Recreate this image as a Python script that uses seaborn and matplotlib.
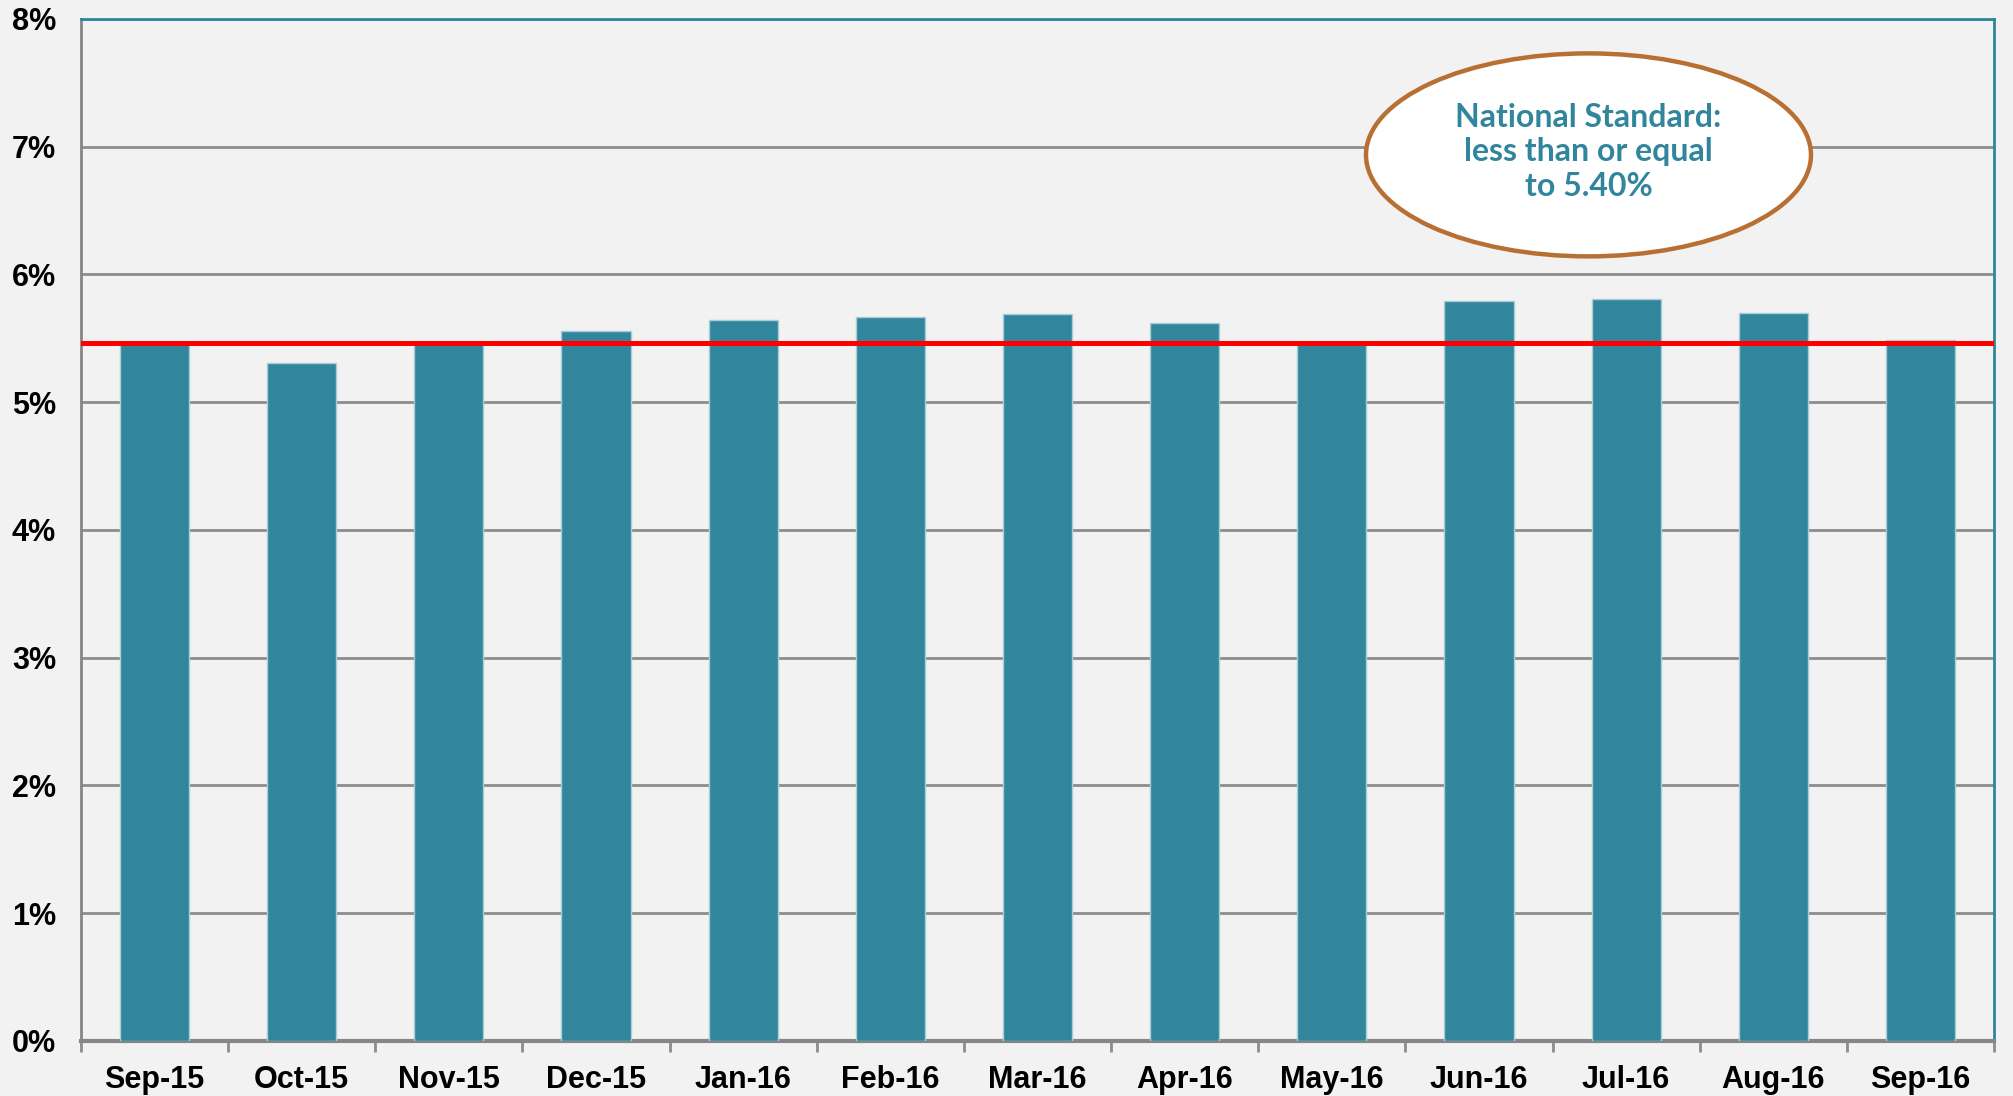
import matplotlib
matplotlib.use("Agg")
import matplotlib.pyplot as plt
from matplotlib.patches import Ellipse
from matplotlib.ticker import FixedLocator
import pandas as pd
import seaborn as sns

MONTHS = ["Sep-15", "Oct-15", "Nov-15", "Dec-15", "Jan-16", "Feb-16", "Mar-16",
          "Apr-16", "May-16", "Jun-16", "Jul-16", "Aug-16", "Sep-16"]
RATE = [5.46, 5.31, 5.46, 5.56, 5.64, 5.67, 5.69, 5.62, 5.47, 5.79, 5.81, 5.70, 5.49]
STANDARD_LINE = 5.46
Y_TICKS = [0, 1, 2, 3, 4, 5, 6, 7, 8]
NOTE = "National Standard:\nless than or equal\nto 5.40%"

TEAL = "#31859c"
BG = "#f2f2f2"

df = pd.DataFrame({"month": MONTHS, "rate": RATE})

sns.set_theme(style="white")
plt.rcParams["font.family"] = ["Liberation Sans", "DejaVu Sans"]

fig, ax = plt.subplots(figsize=(20.13, 10.96), dpi=100)
fig.patch.set_facecolor(BG)
ax.set_facecolor(BG)
fig.subplots_adjust(left=0.0402, right=0.9906, top=0.9827, bottom=0.0502)

sns.barplot(data=df, x="month", y="rate", ax=ax, color=TEAL, saturation=1,
            width=0.47, edgecolor="#a9cdd8", linewidth=1.0, zorder=3)

# line for the national standard
ax.axhline(STANDARD_LINE, color="#ff0000", linewidth=3.6, zorder=4)

ax.set_ylim(0, 8)
ax.set_xlim(-0.5, len(MONTHS) - 0.5)
ax.set_yticks(Y_TICKS)
ax.set_yticklabels([f"{t}%" for t in Y_TICKS])
ax.yaxis.grid(True, color="#8c8c8c", linewidth=2, zorder=0)
ax.set_axisbelow(True)
ax.set_xlabel("")
ax.set_ylabel("")

# category boundary ticks on the x axis
ax.xaxis.set_minor_locator(FixedLocator([i - 0.5 for i in range(len(MONTHS) + 1)]))
ax.tick_params(axis="x", which="major", length=0, pad=17, labelsize=22)
ax.tick_params(axis="x", which="minor", length=8, width=2, color="#8c8c8c",
               direction="out", bottom=True)
ax.tick_params(axis="y", length=0, pad=18, labelsize=22)
for lab in ax.get_xticklabels() + ax.get_yticklabels():
    lab.set_fontweight("bold")
    lab.set_color("black")

for side in ["left", "bottom"]:
    ax.spines[side].set_color("#868686")
    ax.spines[side].set_linewidth(2)
ax.spines["bottom"].set_linewidth(3)
for side in ["top", "right"]:
    ax.spines[side].set_visible(True)
    ax.spines[side].set_color(TEAL)
    ax.spines[side].set_linewidth(2)

ell = Ellipse((0.788, 0.867), 0.2326, 0.1986, transform=ax.transAxes,
              facecolor="white", edgecolor="#b86f32", linewidth=3.2, zorder=5)
ax.add_patch(ell)
ax.text(0.788, 0.870, NOTE, transform=ax.transAxes, ha="center", va="center",
        fontsize=23, fontweight="bold", color=TEAL, linespacing=1.24, zorder=6,
        family=["Lato", "DejaVu Sans"])

fig.savefig("out.png", dpi=100, facecolor=BG)
